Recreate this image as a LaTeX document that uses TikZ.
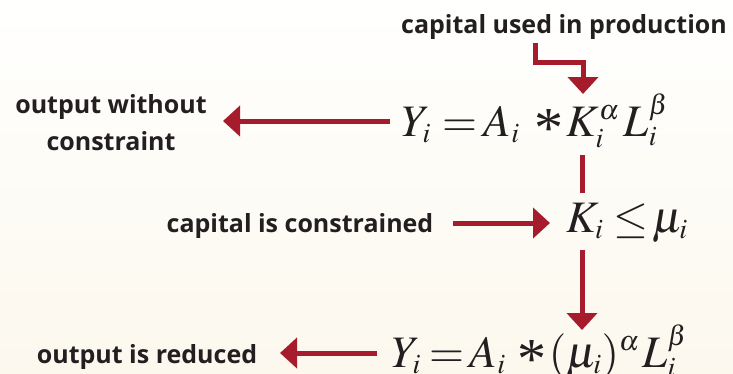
\documentclass[tikz,border=0pt]{standalone}
\usepackage{mathptmx}
\usepackage[no-math]{fontspec}
\setmainfont{Open Sans}
\newfontfamily\serifx{Liberation Serif}
\DeclareMathSizes{45}{45}{28}{21}
\usetikzlibrary{arrows.meta}
\definecolor{arrred}{RGB}{166,28,44}
\definecolor{txt}{RGB}{35,31,32}
\definecolor{bgtop}{RGB}{255,255,254}
\definecolor{bgbot}{RGB}{252,248,238}
\newcommand\heavyast{\raisebox{-11pt}{\fontsize{58}{58}\selectfont\serifx *}}
\newcommand\hs[1]{\hspace{#1pt}}
\tikzset{
  lbl/.style={font=\fontsize{25}{30}\selectfont\bfseries, text=txt, inner sep=0pt},
  eqn/.style={font=\fontsize{45}{54}\selectfont, text=txt, inner sep=0pt},
  arr/.style={draw=arrred, line width=5pt, line join=miter, -{Triangle[width=30pt,length=17pt]}},
  ln/.style={draw=arrred, line width=5pt}
}
\begin{document}
\begin{tikzpicture}[x=1pt,y=-1pt]
\useasboundingbox (0,0) rectangle (733,373);
\shade[top color=bgtop, bottom color=bgbot] (0,0) rectangle (733,373);
% labels
\node[lbl, anchor=base] (top) at (564,33) {capital used in production};
\node[lbl, anchor=base] (out1) at (111,113) {output without};
\node[lbl, anchor=base] (out1b) at (111,150) {constraint};
\node[lbl, anchor=base] (cc) at (300,232) {capital is constrained};
\node[lbl, anchor=base] (red) at (147,363) {output is reduced};
% equations
\node[eqn, anchor=base west] (eq1) at (402,136) {$Y_i\hs{11}{=}\hs{7}A_i\hs{15}\heavyast\hs{3}K_i^{\alpha}\hs{4}L_i^{\beta}$};
\node[eqn, anchor=base west] (eq2) at (566,232) {$K_i\hs{10}{\le}\hs{4}\mu_i$};
\node[eqn, anchor=base west] (eq3) at (392,367) {$Y_i\hs{8}{=}\hs{6}A_i\hs{12}\heavyast\hs{2}(\mu_i)^{\alpha}\hs{3}L_i^{\beta}$};
% connector points
\coordinate (e0) at (535,43);
\coordinate (e1) at (535,62);
\coordinate (e2) at (583,62);
\coordinate (e3) at (583,94);
\coordinate (a1s) at (390,121);
\coordinate (a1e) at (223,121);
\coordinate (v1s) at (582,155);
\coordinate (v1e) at (582,193);
\coordinate (v2s) at (582,250);
\coordinate (v2e) at (582,330);
\coordinate (a2s) at (453,223);
\coordinate (a2e) at (550,223);
\coordinate (a3s) at (377,353);
\coordinate (a3e) at (280,353);
% connectors
\draw[arr] (e0) -- (e1) -- (e2) -- (e3);
\draw[arr] (a1s) -- (a1e);
\draw[ln] (v1s) -- (v1e);
\draw[arr] (v2s) -- (v2e);
\draw[arr] (a2s) -- (a2e);
\draw[arr] (a3s) -- (a3e);
\end{tikzpicture}
\end{document}
